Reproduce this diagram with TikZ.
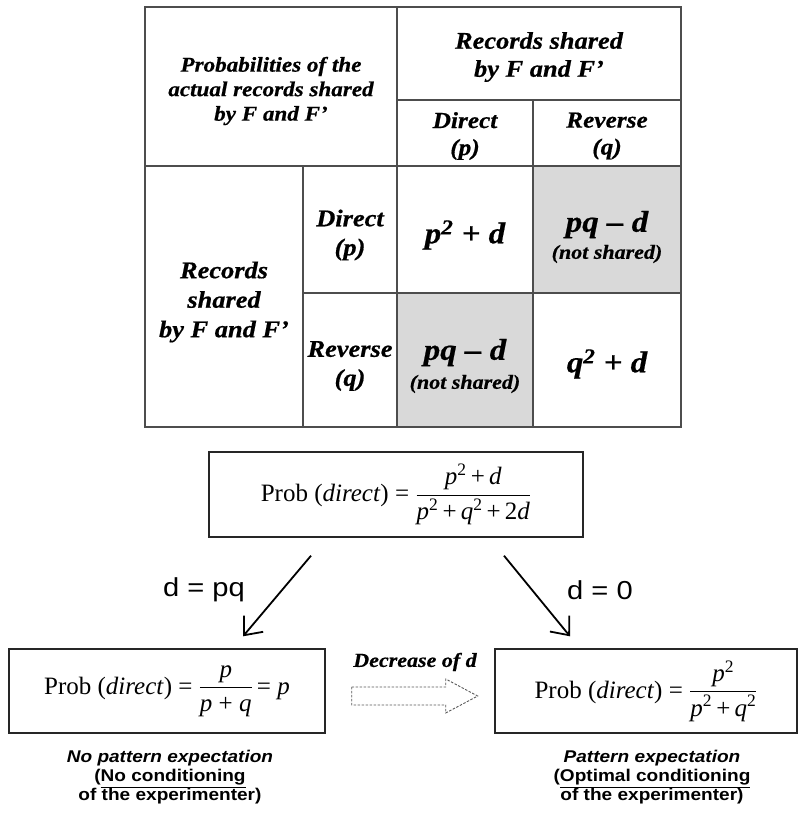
\documentclass[tikz,border=0pt]{standalone}
\usepackage{amsmath}
\usepackage{fontspec}
\setmainfont{Liberation Serif}
\newfontfamily\tabfont{Liberation Serif}[FakeStretch=1.1, BoldItalicFeatures={FakeBold=0.6}]
\newfontfamily\arialfont{Liberation Sans}[FakeStretch=1.12]
\usetikzlibrary{arrows.meta,positioning,calc}
\definecolor{tabline}{HTML}{4D4D4D}
\definecolor{cellgray}{HTML}{D9D9D9}
\newcommand{\vi}[1]{\textit{#1}}
\newcommand{\sq}{\textsuperscript{2}}
\newcommand{\tightlines}{\setlength{\lineskiplimit}{-20pt}}

\begin{document}
\begin{tikzpicture}[x=1pt, y=-1pt, >={Straight Barb[length=15pt,width=25pt]},
  grid/.style={draw=tabline, line width=1.3pt},
  tab/.style={inner sep=0pt, align=center, font=\tabfont\fontsize{24}{28}\selectfont\bfseries\itshape},
  cellval/.style={font=\tabfont\fontsize{30}{30}\selectfont\bfseries\itshape},
  fbox/.style={draw=black!85, line width=1.4pt, inner sep=0pt, font=\fontsize{25}{30}\selectfont},
  lbl/.style={font=\arialfont\fontsize{26}{30}\selectfont},
  note/.style={align=center, font=\arialfont\fontsize{17}{19}\selectfont\bfseries\tightlines}]
\useasboundingbox (0,0) rectangle (798,816);
% table
\fill[cellgray] (533,166) rectangle (681,293);
\fill[cellgray] (397,293) rectangle (533,427);
\draw[grid] (145,7) rectangle (681,427);
\draw[grid] (397,7) -- (397,427) (145,166) -- (681,166) (397,100) -- (681,100)
  (533,100) -- (533,427) (303,166) -- (303,427) (303,293) -- (681,293);
\node[tab, font=\tabfont\fontsize{21}{24.5}\selectfont\bfseries\itshape] (corner) at (271,91) {Probabilities of the\\actual records shared\\by F and F’};
\node[tab] (shared) at (539,57) {Records shared\\by F and F’};
\node[tab, font=\tabfont\fontsize{23}{27}\selectfont\bfseries\itshape] (cdir) at (465,136) {Direct\\(p)};
\node[tab, font=\tabfont\fontsize{23}{27}\selectfont\bfseries\itshape] (crev) at (607,136) {Reverse\\(q)};
\node[tab, font=\tabfont\fontsize{24}{29.5}\selectfont\bfseries\itshape] (rshared) at (224,302) {Records\\shared\\by F and F’};
\node[tab, font=\tabfont\fontsize{24}{29}\selectfont\bfseries\itshape] (rdir) at (350,235) {Direct\\(p)};
\node[tab, font=\tabfont\fontsize{24}{29}\selectfont\bfseries\itshape] (rrev) at (350,366) {Reverse\\(q)};
\node[tab, cellval] (pp) at (465,235) {p\sq{} + d};
\node[tab, cellval] (pq1) at (607,237) {pq – d\\[-3pt]{\fontsize{20}{20}\selectfont (not shared)}};
\node[tab, cellval] (pq2) at (465,366) {pq – d\\[-1pt]{\fontsize{20}{20}\selectfont (not shared)}};
\node[tab, cellval] (qq) at (607,364) {q\sq{} + d};
% formulas
\node[fbox, minimum width=374pt, minimum height=85pt] (mid) at (396,494.5) {Prob (\textit{direct}) = $\dfrac{\text{\vi{p}\sq\,+\,\vi{d}}}{\text{\vi{p}\sq\,+\,\vi{q}\sq\,+\,2\vi{d}}}$};
\node[fbox, minimum width=316pt, minimum height=84pt] (lbox) at (167,691) {Prob (\textit{direct}) = $\dfrac{\text{\vi{p}}}{\text{\vi{p} + \vi{q}}}$\,= \vi{p}};
\node[fbox, minimum width=302pt, minimum height=84pt] (rbox) at (646,691) {Prob (\textit{direct}) = $\dfrac{\text{\vi{p}\sq}}{\text{\vi{p}\sq\,+\,\vi{q}\sq}}$};
\draw[->, line width=1.8pt] ([xshift=-85pt,yshift=-18pt]mid.south) -- ([xshift=76pt,yshift=12pt]lbox.north);
\draw[->, line width=1.8pt] ([xshift=108pt,yshift=-18pt]mid.south) -- ([xshift=-76pt,yshift=12pt]rbox.north);
\node[lbl] (dpq) at (204,590) {d = pq};
\node[lbl] (dzero) at (600,590) {d = 0};
% decrease of d
\coordinate (ds) at ([xshift=26pt,yshift=-5pt]lbox.east);
\draw[black!65, line width=0.9pt, dash pattern=on 2.5pt off 1.5pt] (ds) ++(0pt,9pt) -- ++(94pt,0pt) -- ++(0pt,8pt) -- ++(32pt,-17pt) -- ++(-32pt,-17pt) -- ++(0pt,8pt) -- ++(-94pt,0pt) -- cycle;
\node[font=\tabfont\fontsize{20}{22}\selectfont\bfseries\itshape] (decr) at (415,662) {Decrease of d};
\node[note] (lnote) at (170,777) {\itshape No pattern expectation\\(\underline{No conditioning}\\of the experimenter)};
\node[note] (rnote) at (652,777) {\itshape Pattern expectation\\(\underline{Optimal conditioning}\\of the experimenter)};
\end{tikzpicture}
\end{document}
